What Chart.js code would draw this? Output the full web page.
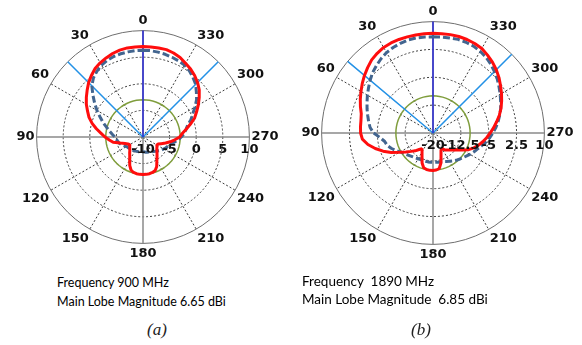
<!DOCTYPE html>
<html>
<head>
<meta charset="utf-8">
<script src="https://cdn.jsdelivr.net/npm/chart.js@4.4.1/dist/chart.umd.min.js"></script>
<style>
    html, body { margin: 0; padding: 0; background: #fff; }
    body { position: relative; width: 582px; height: 345px; overflow: hidden; }
    canvas { position: absolute; }
    .caption { position: absolute; font-family: Lato, "Open Sans", sans-serif; color: #000; white-space: pre; line-height: 15px; }
    .sub { position: absolute; font-family: "Liberation Serif", serif; font-style: italic; font-size: 17px; color: #222; line-height: 20px; }
</style>
</head>
<body>
<canvas id="chart-900" width="330" height="249" style="left:-22px; top:13px"></canvas>
<canvas id="chart-1890" width="330" height="259" style="left:268px; top:4px"></canvas>

<div class="caption" style="left:57px; top:275px; font-size:12.5px">Frequency 900 MHz</div>
<div class="caption" style="left:57px; top:294px; font-size:12.5px">Main Lobe Magnitude 6.65 dBi</div>
<div class="sub" style="left:147px; top:320px">(a)</div>

<div class="caption" style="left:302px; top:274px; font-size:13.5px">Frequency  1890 MHz</div>
<div class="caption" style="left:302px; top:292px; font-size:13.5px">Main Lobe Magnitude  6.85 dBi</div>
<div class="sub" style="left:411px; top:320px">(b)</div>

<script>
// Angles in degrees, counter-clockwise from the top (0, 5, ... 355)
const angles = Array.from({ length: 72 }, (_, i) => i * 5);

// 900 MHz pattern (dB), one value per angle above
const red900 = [
    7.0, 7.0, 7.0, 6.9, 6.7, 6.4, 6.1, 5.7, 5.1, 4.45, 3.7, 3.0, 2.3, 1.5, 0.8, -0.1, -1.1, -2.1,
    -2.85, -3.65, -4.3, -5.6, -6.4, -6.9, -7.15, -6.95, -6.75, -6.5, -6.1, -5.65, -5.0, -4.1, -3.4, -3.1, -3.0, -2.95,
    -2.95, -2.95, -3.0, -3.1, -3.3, -3.9, -4.8, -5.4, -5.9, -6.3, -6.6, -6.8, -7.0, -6.85, -6.35, -5.6, -4.8, -4.0,
    -3.1, -2.6, -1.8, -0.8, 0.3, 1.1, 2.0, 2.9, 3.8, 4.5, 5.1, 5.6, 6.0, 6.5, 6.8, 7.0, 7.0, 7.0
];
const dashed900 = [
    6.3, 6.3, 6.25, 6.2, 6.1, 5.9, 5.6, 5.1, 4.5, 3.6, 2.3, 1.1, 0.0, -1.1, -2.0, -2.9, -3.6, -4.2,
    -4.7, -5.0, -5.2, -5.4, -5.7, -6.1, -6.4, -6.55, -6.7, -6.75, -6.8, -6.9, -7.0, -7.05, -7.1, -7.15, -7.2, -7.2,
    -7.2, -7.2, -7.1, -7.05, -7.0, -6.9, -6.8, -6.65, -6.5, -6.3, -6.0, -5.75, -5.5, -5.25, -5.0, -4.8, -4.1, -3.4,
    -2.8, -2.2, -1.8, -1.3, -0.4, 0.3, 1.3, 2.3, 3.1, 4.0, 4.6, 5.2, 5.6, 5.8, 5.95, 6.1, 6.2, 6.3
];
const ref900 = -3;              // green reference circle
const rays900 = [45, 315];      // light blue lines
const ticks900 = [-10, -5, 0, 5, 10];

// 1890 MHz pattern (dB)
const red1890 = [
    6.85, 6.85, 6.8, 6.8, 6.8, 6.75, 6.6, 6.2, 5.7, 4.9, 4.1, 3.25, 2.4, 1.6, 0.8, 0.0, -0.3, -0.4,
    -0.5, -0.9, -2.2, -3.9, -5.7, -7.6, -9.6, -11.1, -12.3, -13.2, -14.2, -14.85, -14.1, -13.0, -11.4, -10.3, -10.0, -9.9,
    -9.9, -10.0, -10.3, -11.7, -13.7, -14.9, -15.2, -14.4, -14.0, -13.5, -12.9, -12.1, -10.9, -9.4, -8.3, -7.3, -6.4, -5.5,
    -4.6, -3.6, -2.6, -1.5, -0.5, 0.4, 1.3, 2.2, 3.2, 4.1, 4.9, 5.6, 6.3, 6.6, 6.8, 6.9, 6.9, 6.85
];
const dashed1890 = [
    5.9, 5.95, 6.0, 5.95, 5.7, 5.4, 5.0, 4.4, 3.7, 3.0, 2.1, 1.2, 0.4, -0.4, -1.1, -1.8, -2.4, -3.0,
    -4.0, -5.7, -6.8, -7.2, -8.0, -8.9, -9.8, -10.5, -10.9, -11.3, -11.6, -11.8, -12.0, -12.1, -12.1, -12.1, -12.1, -12.1,
    -12.1, -12.1, -12.0, -12.0, -11.8, -11.5, -11.2, -10.8, -10.4, -10.0, -9.6, -9.1, -8.5, -7.9, -7.3, -6.5, -5.6, -4.7,
    -3.9, -3.0, -2.2, -1.4, -0.6, 0.1, 0.9, 1.7, 2.6, 3.4, 4.2, 4.9, 5.4, 5.8, 6.0, 6.1, 6.0, 5.95
];
const ref1890 = -10;
const rays1890 = [50, 315];
const ticks1890 = [-20, -12.5, -5, 2.5, 10];

const boresight = [0];          // dark blue line

// Chart.js walks clockwise from the top, the plot goes counter-clockwise
function toChartOrder(values) {
    return values.map((_, i) => values[(values.length - i) % values.length]);
}

function rayData(rayAngles, min, max) {
    return toChartOrder(angles.map(a => (rayAngles.includes(a) ? max : min)));
}

// Value labels along the 270 axis, just under it
const radialTickLabels = {
    id: "radialTickLabels",
    afterDatasetsDraw(chart, args, opts) {
        const scale = chart.scales.r;
        const ctx = chart.ctx;
        ctx.save();
        ctx.font = 'bold 13px "DejaVu Sans"';
        ctx.fillStyle = "#111";
        ctx.textAlign = "center";
        ctx.textBaseline = "middle";
        opts.values.forEach(v => {
            const x = scale.xCenter + scale.getDistanceFromCenterForValue(v);
            ctx.fillText(String(v), x, scale.yCenter + opts.offsetY);
        });
        ctx.restore();
    }
};

function lineSet(data, color, width, dash) {
    return {
        data: data,
        borderColor: color,
        backgroundColor: "transparent",
        borderWidth: width,
        borderDash: dash || [],
        borderJoinStyle: "bevel",
        fill: false,
        pointRadius: 0,
        pointHoverRadius: 0,
        tension: 0,
    };
}

function makePolar(canvasId, cfg) {
    const { red, dashed, ref, rays, ticks } = cfg;
    const min = ticks[0];
    const max = ticks[ticks.length - 1];

    return new Chart(document.getElementById(canvasId), {
        type: "radar",
        data: {
            labels: toChartOrder(angles),
            datasets: [
                lineSet(toChartOrder(red), "#ff0d0d", 3),
                lineSet(toChartOrder(dashed), "#42658f", 3, [7, 3]),
                lineSet(rayData(boresight, min, max), "#2a2ad6", 1.5),
                lineSet(rayData(rays, min, max), "#2391e6", 1.5),
                lineSet(angles.map(() => ref), "#7f9d3c", 1.5),
            ],
        },
        options: {
            responsive: false,
            animation: false,
            events: [],
            plugins: {
                legend: { display: false },
                tooltip: { enabled: false },
                radialTickLabels: { values: ticks, offsetY: 13 },
            },
            scales: {
                r: {
                    min: min,
                    max: max,
                    afterBuildTicks: s => { s.ticks = ticks.map(v => ({ value: v })); },
                    ticks: { display: false },
                    grid: {
                        circular: true,
                        color: c => (c.index === ticks.length - 1 ? "#6e6e6e" : "#3c3c3c"),
                        lineWidth: 1,
                    },
                    border: {
                        dash: c => (c.index === ticks.length - 1 ? [] : [2, 2]),
                    },
                    angleLines: {
                        display: true,
                        color: c => {
                            const a = (360 - c.index * 5) % 360;
                            if (a % 30 !== 0) return "rgba(0,0,0,0)";
                            return a % 90 === 0 ? "#8a8a8a" : "#3c3c3c";
                        },
                        lineWidth: c => {
                            const a = (360 - c.index * 5) % 360;
                            if (a % 30 !== 0) return 0;
                            return a % 90 === 0 ? 1.5 : 1;
                        },
                        borderDash: c => {
                            const a = (360 - c.index * 5) % 360;
                            return a % 90 === 0 ? [] : [2, 2];
                        },
                    },
                    pointLabels: {
                        display: true,
                        padding: 2,
                        color: "#111",
                        font: { family: "DejaVu Sans", weight: "bold", size: 13 },
                        callback: label => (label % 30 === 0 ? String(label) : ""),
                    },
                },
            },
        },
        plugins: [radialTickLabels],
    });
}

makePolar("chart-900", { red: red900, dashed: dashed900, ref: ref900, rays: rays900, ticks: ticks900 });
makePolar("chart-1890", { red: red1890, dashed: dashed1890, ref: ref1890, rays: rays1890, ticks: ticks1890 });
</script>
</body>
</html>
